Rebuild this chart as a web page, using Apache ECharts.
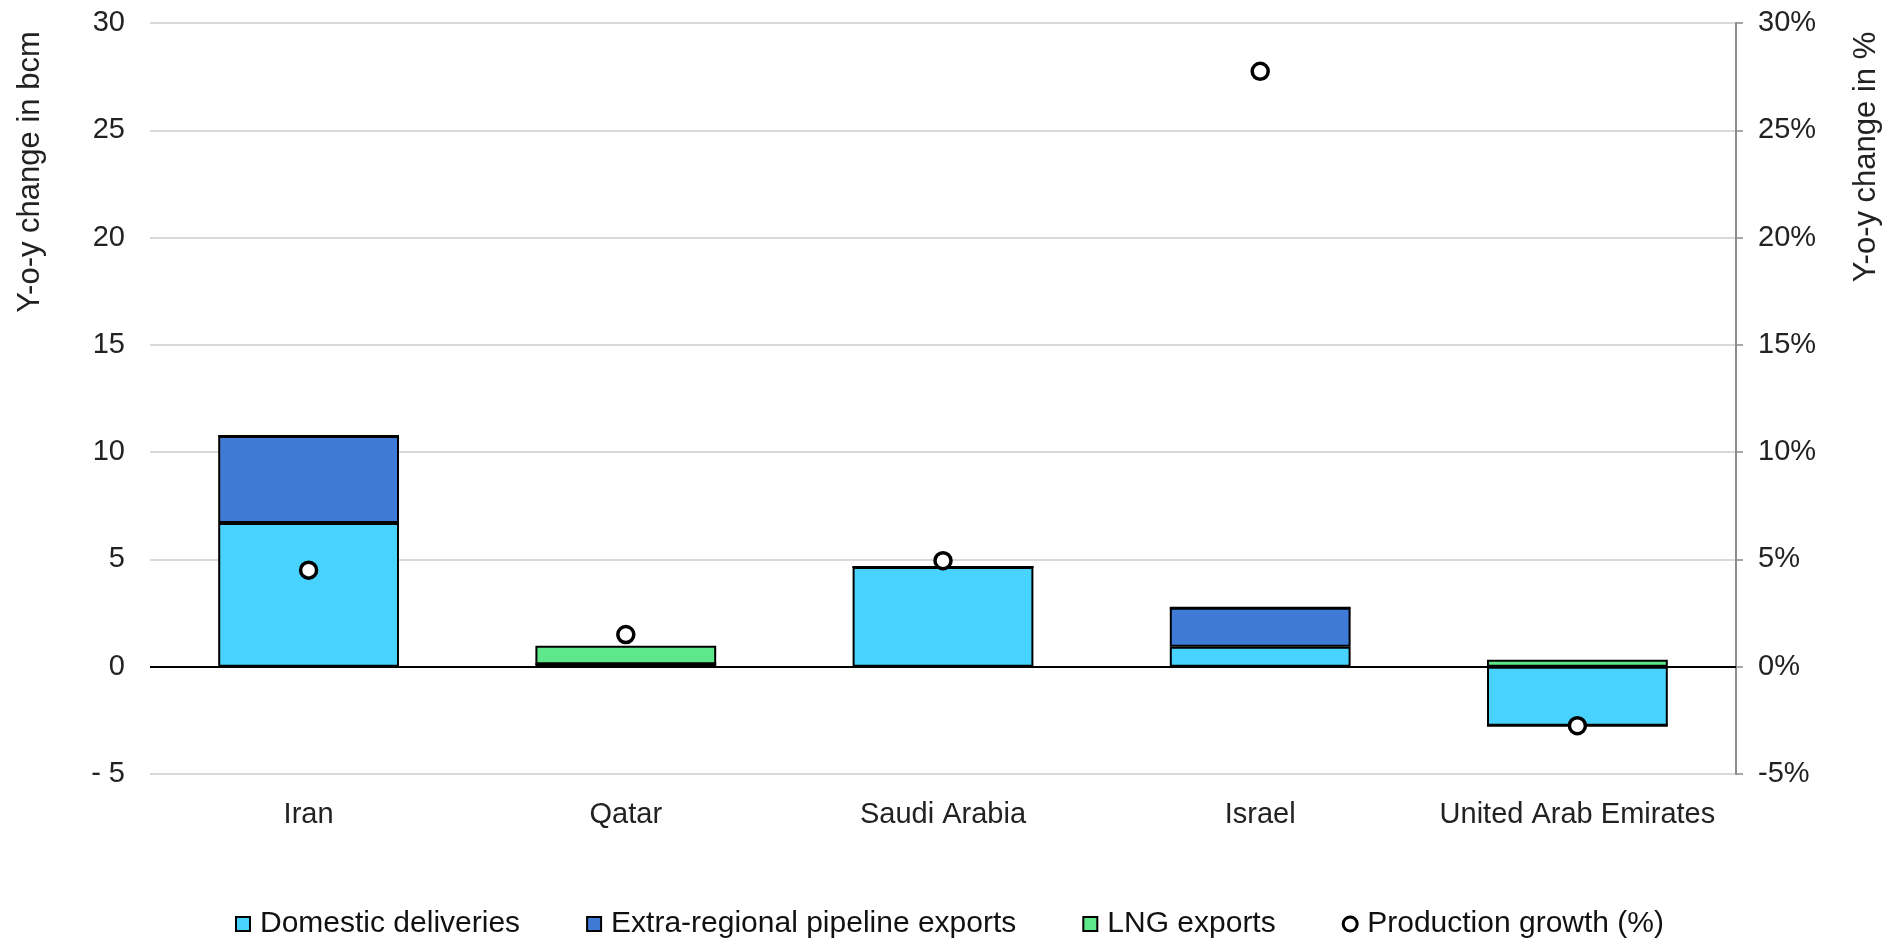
<!DOCTYPE html>
<html>
<head>
<meta charset="utf-8">
<script src="https://cdn.jsdelivr.net/npm/echarts@6/dist/echarts.min.js"></script>
<style>html,body{margin:0;padding:0;background:#fff;}#c{width:1899px;height:939px;}</style>
</head>
<body>
<div id="c"></div>
<script>
const categories = ['Iran', 'Qatar', 'Saudi Arabia', 'Israel', 'United Arab Emirates'];
const domestic = [6.7, 0.12, 4.65, 0.93, -2.75];
const pipeline = [4.05, 0, 0, 1.82, 0];
const lng = [0, 0.86, 0, 0, 0.33];
const growth = [4.5, 1.5, 4.94, 27.75, -2.75];
const leftTicks = { min: -5, max: 30, interval: 5 };
const rightTicks = { min: -5, max: 30, interval: 5 };

const font = 'Liberation Sans, Arial, sans-serif';
const fs = 29;
const chart = echarts.init(document.getElementById('c'));
const barBorder = { borderColor: '#000', borderWidth: 2 };
chart.setOption({
  animation: false,
  textStyle: { fontFamily: font },
  grid: { left: 150, right: 163, top: 23, bottom: 165, containLabel: false, outerBoundsMode: 'none' },
  graphic: [
    { type: 'text', x: 30, y: 172, rotation: Math.PI / 2,
      style: { text: 'Y-o-y change in bcm', font: '31px ' + font, fill: '#222', align: 'center', verticalAlign: 'middle' } },
    { type: 'text', x: 1866, y: 157, rotation: Math.PI / 2,
      style: { text: 'Y-o-y change in %', font: '31px ' + font, fill: '#222', align: 'center', verticalAlign: 'middle' } }
  ],
  legend: {
    top: 904,
    left: 'center',
    itemWidth: 14,
    itemHeight: 14,
    itemGap: 66,
    textStyle: { fontFamily: font, fontSize: 30, color: '#111', padding: [0, 0, 0, 5] },
    data: [
      { name: 'Domestic deliveries', icon: 'rect', itemStyle: { borderColor: '#000', borderWidth: 2 } },
      { name: 'Extra-regional pipeline exports', icon: 'rect', itemStyle: { borderColor: '#000', borderWidth: 2 } },
      { name: 'LNG exports', icon: 'rect', itemStyle: { borderColor: '#000', borderWidth: 2 } },
      { name: 'Production growth (%)', icon: 'circle', itemStyle: { color: '#fff', borderColor: '#000', borderWidth: 3 } }
    ]
  },
  xAxis: {
    type: 'category',
    data: categories,
    axisLine: { show: false, onZero: false },
    axisTick: { show: false },
    axisLabel: { fontFamily: font, fontSize: fs, color: '#222', margin: 26, interval: 0 }
  },
  yAxis: [
    {
      type: 'value', min: leftTicks.min, max: leftTicks.max, interval: leftTicks.interval,
      axisLine: { show: false },
      axisTick: { show: false },
      axisLabel: { fontFamily: font, fontSize: fs, color: '#222', margin: 25,
        formatter: v => v < 0 ? '- ' + Math.abs(v) : String(v) },
      splitLine: { lineStyle: { color: '#d9d9d9', width: 2 } }
    },
    {
      type: 'value', min: rightTicks.min, max: rightTicks.max, interval: rightTicks.interval,
      position: 'right',
      axisLine: { show: true, lineStyle: { color: '#8c8c8c', width: 2 } },
      axisTick: { show: true, length: 7, lineStyle: { color: '#8c8c8c', width: 1.5 } },
      axisLabel: { fontFamily: font, fontSize: fs, color: '#222', margin: 22, formatter: v => v + '%' },
      splitLine: { show: false }
    }
  ],
  series: [
    {
      name: 'Domestic deliveries', type: 'bar', stack: 'a', data: domestic, barWidth: '57%',
      itemStyle: Object.assign({ color: '#47D3FD' }, barBorder),
      markLine: {
        silent: true, symbol: 'none', label: { show: false },
        lineStyle: { color: '#000', type: 'solid', width: 2 },
        data: [{ yAxis: 0 }]
      }
    },
    {
      name: 'Extra-regional pipeline exports', type: 'bar', stack: 'a', data: pipeline, barWidth: '57%',
      itemStyle: Object.assign({ color: '#3F7BD6' }, barBorder)
    },
    {
      name: 'LNG exports', type: 'bar', stack: 'a', data: lng, barWidth: '57%',
      itemStyle: Object.assign({ color: '#5EE88B' }, barBorder)
    },
    {
      name: 'Production growth (%)', type: 'scatter', yAxisIndex: 1, data: growth,
      symbol: 'circle', symbolSize: 16, z: 5,
      itemStyle: { color: '#fff', borderColor: '#000', borderWidth: 3.5, opacity: 1 }
    }
  ]
});
</script>
</body>
</html>
